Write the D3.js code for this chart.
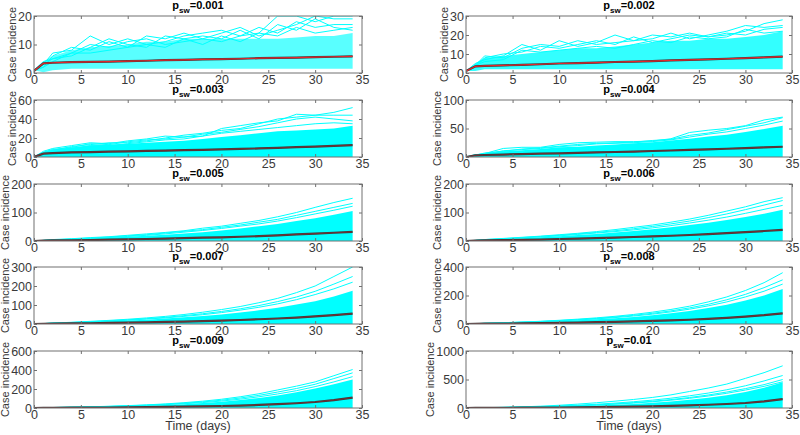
<!DOCTYPE html>
<html><head><meta charset="utf-8">
<script src="https://cdn.jsdelivr.net/npm/d3@7"></script>
<style>
body{margin:0;background:#fff;}
svg{display:block;font-family:"Liberation Sans",Arial,sans-serif;}
</style></head>
<body><svg id="c" width="800" height="435"></svg>
<script>
// ---------- data ----------
const days = [0,1,2,4,6,8,10,12,14,16,18,20,22,24,26,28,30,32,34];
const pValues = ["0.001","0.002","0.003","0.004","0.005","0.006","0.007","0.008","0.009","0.01"];
const yMax = [20,30,60,100,200,200,300,400,600,1000];
const yTicks = [[0,10,20],[0,10,20,30],[0,20,40,60],[0,50,100],[0,100,200],[0,100,200],[0,100,200,300],[0,200,400],[0,200,400,600],[0,500,1000]];
const xTicks = [0,5,10,15,20,25,30,35];

// mean of simulations
const meanP1  = [0.7,3.4,3.6,3.8,3.9,4.0,4.2,4.3,4.5,4.6,4.8,4.9,5.0,5.2,5.3,5.4,5.6,5.7,5.8];
const meanP2  = [1,3.5,3.7,4.0,4.3,4.6,5.0,5.2,5.5,5.8,6.0,6.3,6.6,6.9,7.2,7.5,7.8,8.2,8.6];
const meanP3  = [0,3.5,4.0,4.8,5.2,5.6,6.0,6.4,6.8,7.2,7.6,8.0,8.5,9.0,9.7,10.3,11.0,11.8,12.5];
const meanP4  = [0,3,3.5,4.3,5,5.8,6.5,7.2,8,8.8,9.6,10.5,11.4,12.4,13.4,14.5,15.6,16.8,18];
const meanP5  = [0,1,2,2.5,3.5,4.5,6,7,8.5,10,11.5,13,15,17,20,23,26,29,32];
const meanP6  = [0,1,2,3,4,5,7,8.5,10,12,14,16,18.5,21,24,27.5,31,35,39];
const meanP7  = [0,1,2,3,4,5.5,7,9,11,13,15.5,18,21,25,29,34,40,47,55];
const meanP8  = [0,1,2,3,4.5,6,8,10,12.5,15,18,21.5,25.5,30,36,43,52,62,75];
const meanP9  = [0,1,2,3,4,5.5,7,9,11.5,14,17,21,26,32,40,50,63,82,110];
const meanP10 = [0,1,2,3.5,5,7,9,12,15,19,24,30,37,46,57,70,88,115,155];

// dense band of simulations (lower / upper edge)
const loP1 = [1,0.3,1,1.5,1.5,1.5,1.5,1.5,1.5,1.5,1.5,1.5,1.5,1.5,1.5,1.5,1.5,1.5,1.5];
const hiP1 = [1,4,6,8,9,9.5,10,11,11,12,12,12,12,12,12,12.5,13,13,14];
const loP2 = [1,1,2,2,2,2,2,2,2,2,2,2,2,2,2,2,2,2,2];
const hiP2 = [1,5,8,9,10,11,12,13,13,14,15,16,17,17,18,18,19,20,22];
const hiP3 = [0,5,8,10,12,13,14,15,16,17,19,21,23,25,27,28,29,30,33];
const hiP4 = [0,4,6,10,12,14,17,18,20,22,24,26,29,32,36,39,44,49,55];
const hiP5 = [0,2,4,6,9,12,15,18,22,26,31,37,44,52,60,70,80,92,105];
const hiP6 = [0,2,4,7,10,13,17,21,25,30,35,41,48,56,64,74,84,96,110];
const hiP7 = [0,2,4,7,10,14,18,23,29,35,42,50,60,72,86,102,120,145,175];
const hiP8 = [0,2,4,7,11,15,20,26,33,41,50,61,75,92,112,135,165,200,245];
const hiP9 = [0,2,4,7,10,14,18,24,31,40,52,66,84,106,132,165,205,250,300];
const hiP10= [0,2,5,9,13,18,25,33,43,56,72,92,116,145,180,225,280,355,450];
const zeroLo = [0,0,0,0,0,0,0,0,0,0,0,0,0,0,0,0,0,0,0];

// individual outlying simulation runs
const simsP1 = [
 [1,3,7,8,13,10,12,10,11,13,14,15,13,14,20,20,18,20,20],
 [1,4,5,7,10,9,11,12,10,11,12,14,16,13,15,17,20,19,19],
 [1,2,6,9,8,11,9,13,12,14,12,11,13,16,14,18,16,17,17],
 [1,3,5,6,9,12,10,9,13,12,13,12,15,12,17,15,19,16,15],
 [1,2,4,7,7,8,9,10,9,12,10,13,11,14,13,16,14,15,16]];
const simsP2 = [
 [1,4,9,8,13,15,14,17,15,16,17,20,19,21,19,20,22,26,28],
 [1,5,7,9,15,12,17,14,16,20,17,18,21,18,20,22,25,24,25],
 [1,3,8,10,11,14,13,15,17,15,19,16,18,20,19,21,20,23,24],
 [1,4,6,7,12,11,12,13,14,13,15,17,16,19,18,19,23,21,22]];
const simsP3 = [
 [0,6,9,12,15,14,17,19,22,21,22,30,33,36,38,45,44,47,52],
 [0,4,7,11,13,15,15,17,20,23,25,28,30,35,40,42,44,44,44],
 [0,5,8,10,14,13,16,18,19,21,24,26,29,32,36,40,42,40,38],
 [0,3,6,9,12,12,14,16,18,19,22,25,27,29,31,33,35,36,35]];
const simsP4 = [
 [0,4,6,15,17,17,22,25,26,27,27,28,32,43,47,50,55,65,70],
 [0,3,7,10,14,16,19,22,24,25,26,29,31,38,42,48,54,60,69],
 [0,4,5,11,13,15,18,20,23,24,25,27,30,35,40,44,50,56,63]];
const simsP5 = [
 [0,2,5,8,12,15,20,25,30,36,45,52,62,72,85,100,118,135,150],
 [0,2,4,7,10,14,18,22,28,34,40,48,56,66,76,90,104,118,132],
 [0,2,4,6,9,12,16,20,25,31,37,44,52,60,70,82,95,108,122]];
const simsP6 = [
 [0,2,5,9,13,17,22,27,33,40,48,56,66,77,90,105,120,138,152],
 [0,2,5,8,12,16,20,25,30,36,43,51,60,70,82,95,110,126,142],
 [0,2,4,7,11,14,18,23,28,33,39,46,54,63,73,84,97,111,125]];
const simsP7 = [
 [0,2,5,9,14,19,25,32,40,50,62,76,92,112,135,165,200,250,300],
 [0,2,5,8,12,17,22,28,35,44,54,66,80,97,118,142,172,210,250],
 [0,2,4,7,11,15,20,26,32,40,49,60,73,88,106,128,155,185,220]];
const simsP8 = [
 [0,2,5,9,14,19,26,34,43,54,67,83,102,125,155,190,235,290,360],
 [0,2,5,8,13,18,24,31,39,49,61,75,92,113,138,170,208,255,310],
 [0,2,4,8,12,16,22,28,36,45,56,69,85,104,127,155,190,230,280]];
const simsP9 = [
 [0,2,5,9,13,18,25,33,43,56,72,92,118,150,190,230,275,340,405],
 [0,2,5,8,12,17,23,30,39,50,64,82,105,133,168,205,250,310,370],
 [0,2,4,8,11,15,21,27,35,45,57,73,93,118,148,182,225,275,330]];
const simsP10 = [
 [0,3,6,12,20,32,48,68,92,120,150,185,230,290,350,420,520,620,740],
 [0,2,5,10,16,24,35,49,66,86,110,138,172,214,262,320,390,475,570],
 [0,2,5,9,14,21,30,42,56,73,94,118,148,184,228,280,340,410,500],
 [0,2,5,9,14,20,28,38,51,67,86,109,137,170,210,258,315,380,460]];

const means = [meanP1,meanP2,meanP3,meanP4,meanP5,meanP6,meanP7,meanP8,meanP9,meanP10];
const bandLo = [loP1,loP2,zeroLo,zeroLo,zeroLo,zeroLo,zeroLo,zeroLo,zeroLo,zeroLo];
const bandHi = [hiP1,hiP2,hiP3,hiP4,hiP5,hiP6,hiP7,hiP8,hiP9,hiP10];
const sims = [simsP1,simsP2,simsP3,simsP4,simsP5,simsP6,simsP7,simsP8,simsP9,simsP10];

// ---------- layout ----------
const colX = [[34,362],[466,792]];
const rowTop = [16,100,184,267,351];
const panelH = 57;
const bandOpacity = [0.65,0.8,1,1,1,1,1,1,1,1];

const svg = d3.select("#c");
const axisColor = "#707070", textColor = "#3a3a3a";

pValues.forEach((p,i)=>{
  const col = i%2, row = Math.floor(i/2);
  const [x0,x1] = colX[col];
  const y0 = rowTop[row], y1 = y0+panelH;
  const x = d3.scaleLinear().domain([0,35]).range([x0,x1]);
  const y = d3.scaleLinear().domain([0,yMax[i]]).range([y1,y0]);
  const g = svg.append("g");
  const clipId = "clip"+i;
  g.append("clipPath").attr("id",clipId).append("rect")
    .attr("x",x0).attr("y",y0).attr("width",x1-x0).attr("height",panelH);
  const pg = g.append("g").attr("clip-path",`url(#${clipId})`);

  const area = d3.area().x((d,k)=>x(days[k])).y0((d,k)=>y(bandLo[i][k])).y1(d=>y(d));
  pg.append("path").datum(bandHi[i]).attr("d",area)
    .attr("fill","#00ffff").attr("fill-opacity",bandOpacity[i]);
  const line = d3.line().x((d,k)=>x(days[k])).y(d=>y(d));
  pg.selectAll("path.sim").data(sims[i]).join("path").attr("class","sim")
    .attr("d",line).attr("fill","none").attr("stroke","#00ffff").attr("stroke-width",1);
  pg.append("path").datum(means[i]).attr("d",line)
    .attr("fill","none").attr("stroke","#3a3a3a").attr("stroke-width",2.2);
  pg.append("path").datum(means[i]).attr("d",line)
    .attr("fill","none").attr("stroke","#e8262a").attr("stroke-width",1.2)
    .attr("opacity", i<2?1:0.3);

  // axes
  const styleAxis = sel=>{
    sel.select(".domain").remove();
    sel.selectAll("line").attr("stroke",axisColor);
    sel.selectAll("text").attr("fill",textColor).style("font-size","12.5px");
  };
  g.append("g").attr("transform",`translate(0,${y1})`)
    .call(d3.axisBottom(x).tickValues(xTicks).tickSize(-3).tickPadding(2.5)).call(styleAxis);
  g.append("g").attr("transform",`translate(0,${y0})`)
    .call(d3.axisTop(x).tickValues(xTicks).tickSize(-3).tickFormat("")).call(styleAxis);
  const yAx = g.append("g").attr("transform",`translate(${x0},0)`)
    .call(d3.axisLeft(y).tickValues(yTicks[i]).tickFormat(d3.format("d")).tickSize(-3).tickPadding(2)).call(styleAxis);
  g.append("g").attr("transform",`translate(${x1},0)`)
    .call(d3.axisRight(y).tickValues(yTicks[i]).tickSize(-3).tickFormat("")).call(styleAxis);
  g.append("rect").attr("x",x0).attr("y",y0).attr("width",x1-x0).attr("height",panelH)
    .attr("fill","none").attr("stroke",axisColor).attr("stroke-width",1);

  // title
  const t = g.append("text").attr("x",(x0+x1)/2).attr("y",y0-7)
    .attr("text-anchor","middle").attr("font-weight","bold").attr("fill","#000").style("font-size","11px");
  t.append("tspan").text("p");
  t.append("tspan").attr("dy",3.5).style("font-size","8px").text("sw");
  t.append("tspan").attr("dy",-3.5).text("="+p);

  // y label placed left of the widest tick label
  let maxW = 0;
  yAx.selectAll("text").each(function(){ maxW = Math.max(maxW, this.getComputedTextLength()); });
  const lx = x0 - 2 - maxW - 2.5;
  g.append("text").attr("transform",`translate(${lx},${(y0+y1)/2}) rotate(-90)`)
    .attr("text-anchor","middle").attr("fill",textColor).style("font-size","11px").text("Case incidence");
  if(row===4){
    g.append("text").attr("x",(x0+x1)/2).attr("y",y1+22).attr("text-anchor","middle")
      .attr("fill",textColor).style("font-size","12.5px").text("Time (days)");
  }
});
</script></body></html>
